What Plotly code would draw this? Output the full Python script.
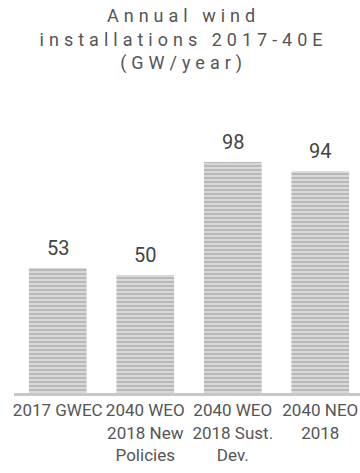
import plotly.graph_objects as go

categories = ["2017 GWEC", "2040 WEO<br>2018 New<br>Policies", "2040 WEO<br>2018 Sust.<br>Dev.", "2040 NEO<br>2018"]
values = [53, 50, 98, 94]
title_text = "Annual wind<br>installations 2017-40E<br>(GW/year)"

fig = go.Figure()
fig.add_trace(go.Bar(
    x=categories, y=values, width=0.66,
    marker=dict(color="#d4d4d4",
                line=dict(width=0),
                pattern=dict(shape="-", fgcolor="#999999", bgcolor="#d8d8d8",
                             size=4, solidity=0.5)),
    hoverinfo="skip",
))

for c, v in zip(categories, values):
    fig.add_annotation(x=c, y=v, text=str(v), showarrow=False, yanchor="bottom",
                       yshift=6, font=dict(family="Roboto", size=20, color="#444444"))

fig.update_layout(
    width=360, height=473,
    margin=dict(l=14, r=0, t=140, b=80),
    paper_bgcolor="white", plot_bgcolor="white",
    showlegend=False,
    title=dict(text=title_text, xref="container", x=0.51, xanchor="center",
               yref="container", y=0.953, yanchor="top",
               font=dict(family="Roboto", size=18, color="#555555")),
    xaxis=dict(range=[-0.5, 3.454], showline=True, linecolor="#c8c8c8", linewidth=3,
               showgrid=False, zeroline=False, ticks="", tickangle=0,
               tickfont=dict(family="Roboto", size=17, color="#555555")),
    yaxis=dict(range=[0, 107.3], visible=False, showgrid=False, zeroline=False),
)

post = "document.querySelectorAll('.gtitle').forEach(function(e){e.style.letterSpacing='5px';});"
fig.write_html("out.html", post_script=post)
